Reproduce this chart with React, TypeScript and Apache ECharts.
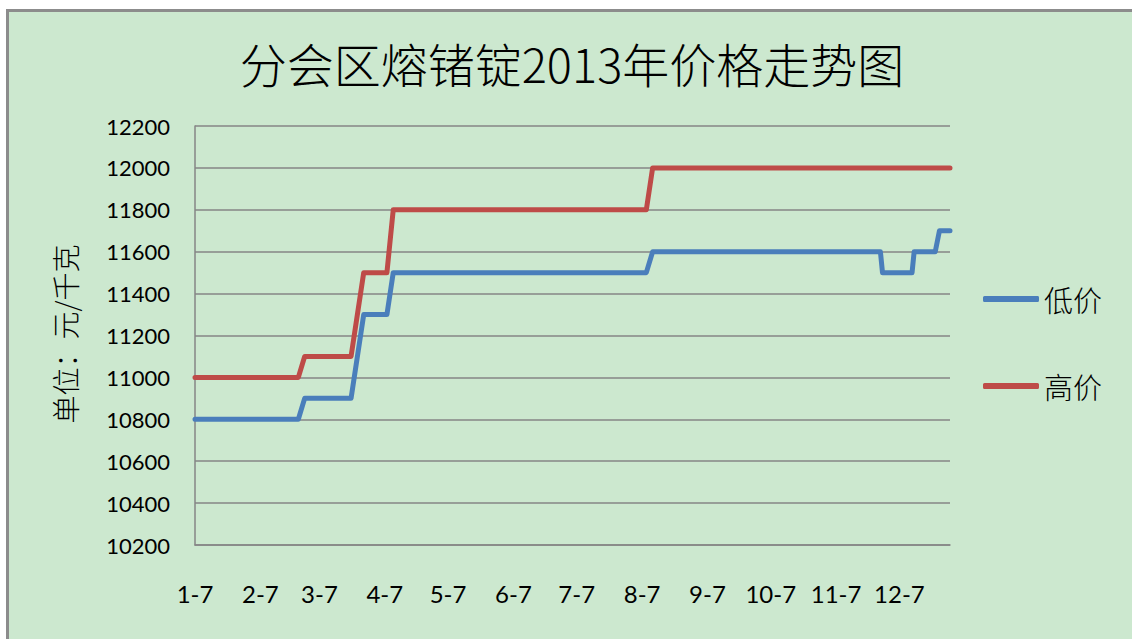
import React, { useEffect, useRef } from "react";
import * as echarts from "echarts";

const TITLE = "分会区熔锗锭2013年价格走势图";
const Y_NAME = "单位：元/千克";
const SERIES_NAMES = ["低价", "高价"];

const START = "2013-01-07";
const END = "2013-12-31";

const tickDates = [
  "2013-01-07", "2013-02-07", "2013-03-07", "2013-04-07", "2013-05-07", "2013-06-07",
  "2013-07-07", "2013-08-07", "2013-09-07", "2013-10-07", "2013-11-07", "2013-12-07",
];
const tickLabels = ["1-7", "2-7", "3-7", "4-7", "5-7", "6-7", "7-7", "8-7", "9-7", "10-7", "11-7", "12-7"];

const lowDates = [
  "2013-01-07", "2013-02-25", "2013-02-28", "2013-03-22", "2013-03-28", "2013-04-08",
  "2013-04-11", "2013-08-09", "2013-08-12", "2013-11-28", "2013-11-29", "2013-12-13",
  "2013-12-14", "2013-12-24", "2013-12-26", "2013-12-31",
];
const lowValues = [
  10800, 10800, 10900, 10900, 11300, 11300, 11500, 11500, 11600, 11600, 11500, 11500,
  11600, 11600, 11700, 11700,
];

const highDates = [
  "2013-01-07", "2013-02-25", "2013-02-28", "2013-03-22", "2013-03-28", "2013-04-08",
  "2013-04-11", "2013-08-09", "2013-08-12", "2013-12-31",
];
const highValues = [11000, 11000, 11100, 11100, 11500, 11500, 11800, 11800, 12000, 12000];

const yMin = 10200;
const yMax = 12200;
const yStep = 200;

function dayOffset(s: string): number {
  const [y, m, d] = s.split("-").map(Number);
  const [y0, m0, d0] = START.split("-").map(Number);
  return Math.round((Date.UTC(y, m - 1, d) - Date.UTC(y0, m0 - 1, d0)) / 86400000);
}

const tickOffsets = tickDates.map(dayOffset);

export default function App() {
  const ref = useRef<HTMLDivElement>(null);
  useEffect(() => {
    if (!ref.current) return;
    const chart = echarts.init(ref.current, null, { renderer: "svg" });
    const latin = "Lato, 'Open Sans', sans-serif";
    const cjk = "'Noto Sans CJK SC', sans-serif";
    chart.setOption({
      animation: false,
      backgroundColor: "#ffffff",
      color: ["#4a7ebb", "#be4b48"],
      graphic: [
        {
          type: "rect",
          z: -10,
          silent: true,
          shape: { x: 7.5, y: 10.5, width: 1200, height: 700 },
          style: { fill: "#cce8cf", stroke: "#8c8c8c", lineWidth: 3 },
        },
        {
          type: "text",
          x: 572,
          y: 62,
          style: {
            text: TITLE,
            fontSize: 47,
            fontWeight: 300,
            fontFamily: cjk,
            fill: "#000",
            align: "center",
            verticalAlign: "middle",
          },
        },
        {
          type: "text",
          x: 65,
          y: 334,
          rotation: Math.PI / 2,
          style: {
            text: Y_NAME,
            fontSize: 28,
            fontWeight: 300,
            fontFamily: cjk,
            fill: "#000",
            align: "center",
            verticalAlign: "middle",
          },
        },
      ],
      legend: {
        data: SERIES_NAMES,
        orient: "vertical",
        left: 978,
        top: 278,
        itemWidth: 56,
        itemHeight: 6,
        itemGap: 55,
        icon: "roundRect",
        textStyle: { fontSize: 29, fontWeight: 300, fontFamily: cjk, color: "#000", lineHeight: 32 },
      },
      grid: { left: 195, right: 182, top: 126, bottom: 94 },
      xAxis: {
        type: "value",
        min: 0,
        max: dayOffset(END),
        axisLine: { show: true, lineStyle: { color: "#868686", width: 1.5 } },
        axisTick: { show: false },
        splitLine: { show: false },
        axisLabel: {
          customValues: tickOffsets,
          formatter: (v: number) => {
            const i = tickOffsets.indexOf(Math.round(v));
            return i >= 0 ? tickLabels[i] : "";
          },
          margin: 36,
          fontSize: 24,
          fontFamily: latin,
          color: "#000",
        },
      },
      yAxis: {
        type: "value",
        min: yMin,
        max: yMax,
        interval: yStep,
        axisLine: { show: true, lineStyle: { color: "#868686", width: 1.5 } },
        axisTick: { show: false },
        splitLine: { show: true, lineStyle: { color: "#868686", width: 1.5 } },
        axisLabel: {
          margin: 25,
          fontSize: 22,
          fontFamily: latin,
          color: "#000",
          formatter: (v: number) => String(v),
        },
      },
      series: [
        {
          name: SERIES_NAMES[0],
          type: "line",
          symbol: "none",
          data: lowDates.map((d, i) => [dayOffset(d), lowValues[i]]),
          itemStyle: { color: "#4a7ebb" },
          lineStyle: { color: "#4a7ebb", width: 5, join: "round", cap: "round" },
        },
        {
          name: SERIES_NAMES[1],
          type: "line",
          symbol: "none",
          data: highDates.map((d, i) => [dayOffset(d), highValues[i]]),
          itemStyle: { color: "#be4b48" },
          lineStyle: { color: "#be4b48", width: 5, join: "round", cap: "round" },
        },
      ],
    });
    return () => chart.dispose();
  }, []);
  return (
    <div
      ref={ref}
      style={{ position: "fixed", left: 0, top: 0, width: 1132, height: 639 }}
    />
  );
}
